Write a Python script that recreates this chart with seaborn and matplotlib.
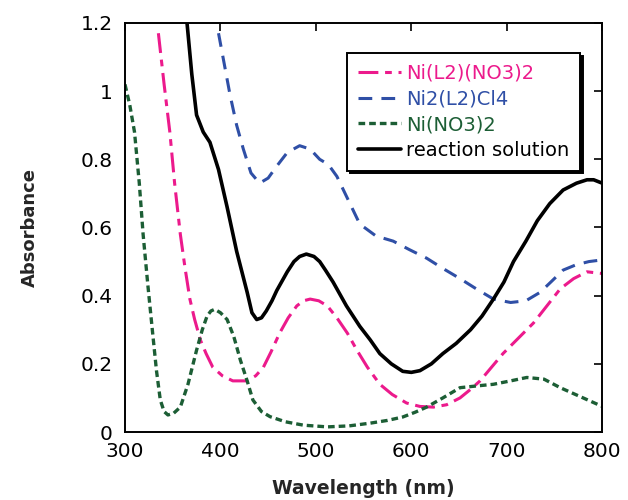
import matplotlib
matplotlib.use('Agg')
import matplotlib.pyplot as plt
from matplotlib.ticker import FuncFormatter
import seaborn as sns

# values
wl_mix = [365, 370, 375, 382, 389, 398, 407, 417, 428, 433, 438, 443, 448, 454, 459, 465, 470, 477, 483,
          490, 498, 504, 510, 518, 525, 532, 539, 546, 557, 567, 579, 591, 600, 609, 621, 633, 647,
          662, 674, 686, 697, 707, 720, 732, 745, 759, 773, 784, 791, 800]
abs_mix = [1.20, 1.05, 0.93, 0.88, 0.85, 0.77, 0.66, 0.53, 0.41, 0.35, 0.33, 0.335, 0.355, 0.385, 0.415, 0.445,
           0.47, 0.50, 0.515, 0.522, 0.515, 0.50, 0.475, 0.44, 0.405, 0.37, 0.34, 0.31, 0.27, 0.23, 0.20,
           0.178, 0.175, 0.18, 0.20, 0.23, 0.26, 0.30, 0.34, 0.39, 0.44, 0.50, 0.56, 0.62, 0.67, 0.71, 0.73,
           0.74, 0.74, 0.73]

wl_nl = [335, 341, 347, 352, 358, 363, 368, 373, 379, 385, 392, 402, 413, 428, 437, 445, 453,
         462, 471, 480, 487, 494, 503, 512, 522, 533, 543, 554, 567, 580, 595, 609, 623, 637,
         651, 662, 672, 684, 696, 712, 728, 742, 756, 770, 784, 800]
abs_nl = [1.17, 1.02, 0.88, 0.73, 0.58, 0.48, 0.39, 0.33, 0.27, 0.23, 0.19, 0.165, 0.15, 0.15, 0.165, 0.19, 0.235,
          0.29, 0.335, 0.37, 0.385, 0.39, 0.385, 0.37, 0.335, 0.29, 0.24, 0.19, 0.14, 0.11, 0.085, 0.075, 0.073, 0.08,
          0.10, 0.125, 0.15, 0.19, 0.23, 0.275, 0.32, 0.37, 0.42, 0.45, 0.47, 0.465]

wl_cl = [398, 404, 410, 417, 424, 432, 441, 450, 459, 470, 483, 494, 504, 513, 522, 534, 546,
         563, 581, 598, 616, 633, 651, 668, 686, 704, 720, 735, 748, 759, 772, 786, 800]
abs_cl = [1.17, 1.08, 0.99, 0.90, 0.83, 0.76, 0.73, 0.745, 0.78, 0.82, 0.84, 0.83, 0.80, 0.785, 0.75, 0.68, 0.61,
          0.575, 0.56, 0.535, 0.51, 0.48, 0.45, 0.42, 0.39, 0.38, 0.385, 0.41, 0.445, 0.475, 0.49, 0.50, 0.505]

wl_no3 = [300, 305, 310, 315, 319, 324, 329, 333, 337, 341, 345, 351, 358, 366, 375, 381, 386,
          390, 394, 400, 407, 414, 421, 428, 434, 443, 452, 468, 487, 512, 535, 557, 575, 591,
          604, 616, 633, 651, 668, 686, 704, 721, 739, 756, 772, 788, 800]
abs_no3 = [1.02, 0.96, 0.88, 0.73, 0.58, 0.43, 0.29, 0.18, 0.094, 0.06, 0.05, 0.055, 0.073, 0.14, 0.24, 0.30, 0.34,
           0.355, 0.36, 0.35, 0.33, 0.28, 0.21, 0.15, 0.094, 0.06, 0.045, 0.03, 0.02, 0.015, 0.018, 0.026, 0.034, 0.044,
           0.058, 0.073, 0.10, 0.13, 0.135, 0.14, 0.15, 0.16, 0.155, 0.13, 0.11, 0.09, 0.075]

labels = ['Ni(L2)(NO3)2', 'Ni2(L2)Cl4', 'Ni(NO3)2', 'reaction solution']
colors = ['#ec1a8c', '#2f4fa6', '#1c5e35', 'black']

sns.set_style('white')
plt.rcParams['font.family'] = ['DejaVu Sans']

fig = plt.figure(figsize=(6.28, 5), dpi=100)
ax = fig.add_axes([0.199, 0.136, 0.760, 0.818])

series = [(wl_nl, abs_nl, (6.5, 2.2, 2.2, 2.2), 2.2),
          (wl_cl, abs_cl, (4.5, 3.0), 2.2),
          (wl_no3, abs_no3, (2.0, 1.2), 2.4),
          (wl_mix, abs_mix, None, 2.6)]
for (x, y, dash, lw), name, col in zip(series, labels, colors):
    sns.lineplot(x=x, y=y, ax=ax, color=col, lw=lw, label=name, sort=False)
    if dash is not None:
        ax.lines[-1].set_dashes(dash)

ax.set_xlim(300, 800)
ax.set_ylim(0, 1.2)
ax.set_xticks([300, 400, 500, 600, 700, 800])
ax.set_yticks([0, 0.2, 0.4, 0.6, 0.8, 1.0, 1.2])
ax.yaxis.set_major_formatter(FuncFormatter(lambda v, p: f'{v:g}'))
ax.tick_params(direction='in', top=True, right=True, length=6, width=1.2,
               labelsize=14.5, colors='black')
ax.tick_params(axis='y', pad=9)
ax.tick_params(axis='x', pad=7)
for sp in ax.spines.values():
    sp.set_color('black')
    sp.set_linewidth(1.4)

ax.set_xlabel('Wavelength (nm)', fontsize=13.5, fontweight='bold', labelpad=13)
ax.set_ylabel('Absorbance', fontsize=13, fontweight='bold', labelpad=30)

leg = ax.legend(loc='upper right', bbox_to_anchor=(0.954, 0.927), fontsize=14,
                frameon=True, fancybox=False, shadow={'color': 'black', 'alpha': 1},
                edgecolor='black', labelcolor='linecolor', handlelength=2.2,
                handletextpad=0.3, borderpad=0.55, labelspacing=0.35, borderaxespad=0)
leg.get_frame().set_linewidth(1.4)

fig.savefig('out.png', dpi=100)
